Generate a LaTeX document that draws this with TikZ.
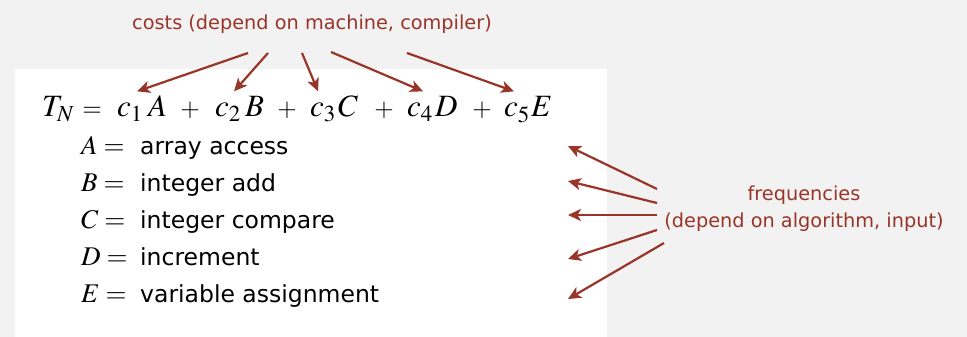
\documentclass[tikz,border=0pt]{standalone}
\usepackage{mathptmx}
\usepackage[no-math]{fontspec}
\setmainfont{DejaVu Sans}
\usetikzlibrary{arrows.meta,positioning}
\definecolor{bggray}{RGB}{242,242,242}
\definecolor{rust}{RGB}{153,52,40}

\begin{document}
\begin{tikzpicture}[
    x=1pt, y=-1pt,
    note/.style={font=\fontsize{19.3}{27}\selectfont, text=rust, inner sep=0pt},
    term/.style={anchor=base west, inner sep=0pt, font=\fontsize{31}{36}\selectfont},
    op/.style={anchor=base, inner sep=0pt, font=\fontsize{25}{30}\selectfont},
    defvar/.style={anchor=base west, inner sep=0pt, font=\fontsize{27}{30}\selectfont},
    deftext/.style={anchor=base west, inner sep=0pt, font=\fontsize{23.5}{28}\selectfont},
    arrow/.style={-{Stealth[length=13pt, width=12pt, inset=3.5pt]}, line width=2.2pt, draw=rust}
]
% canvas
\fill[bggray] (0,0) rectangle (967,337);
\fill[white] (15,69) rectangle (607,337);

% cost formula
\node[term] (TN) at (42,117) {$T_N$};
\node[op] (eq) at (92,116) {$=$};
\node[term] (c1) at (117,117) {$c_1$};
\node[term] (vA) at (148,117) {$A$};
\node[op] (p1) at (190,116) {$+$};
\node[term] (c2) at (215,117) {$c_2$};
\node[term] (vB) at (245,117) {$B$};
\node[op] (p2) at (287,116) {$+$};
\node[term] (c3) at (310,117) {$c_3$};
\node[term] (vC) at (338,117) {$C$};
\node[op] (p3) at (384,116) {$+$};
\node[term] (c4) at (407,117) {$c_4$};
\node[term] (vD) at (435,117) {$D$};
\node[op] (p4) at (482,116) {$+$};
\node[term] (c5) at (504,117) {$c_5$};
\node[term] (vE) at (531,117) {$E$};

% definitions
\foreach \v/\txt/\y in {A/array access/154, B/integer add/191, C/integer compare/228,
                        D/increment/265, E/variable assignment/302} {
  \node[defvar] (var\v) at (81,\y) {$\v =$};
  \node[deftext] (def\v) at (140,\y) {\txt};
}

% labels
\node[note, anchor=base] (costs) at (312,30) {costs (depend on machine, compiler)};
\node[note, align=center] (freq) at (804,209) {frequencies\\(depend on algorithm, input)};

% cost arrows
\coordinate (cs1) at (248,53);
\coordinate (cs2) at (268,53);
\coordinate (cs3) at (302,53);
\coordinate (cs4) at (331,52);
\coordinate (cs5) at (407,53);
\draw[arrow] (cs1) -- ([xshift=7pt, yshift=12pt]c1.north);
\draw[arrow] (cs2) -- ([xshift=6pt, yshift=12pt]c2.north);
\draw[arrow] (cs3) -- ([xshift=-5pt, yshift=12pt]c3.north);
\draw[arrow] (cs4) -- ([xshift=3pt, yshift=12pt]c4.north);
\draw[arrow] (cs5) -- ([xshift=-3pt, yshift=12pt]c5.north);

% frequency arrows
\foreach \v/\xs/\ys/\yt in {A/657/189/146, B/657/203/181, C/657/215/215,
                            D/657/230/259, E/664/243/299} {
  \coordinate (fs\v) at (\xs,\ys);
  \coordinate (ft\v) at (568,\yt);
  \draw[arrow] (fs\v) -- (ft\v);
}
\end{tikzpicture}
\end{document}
